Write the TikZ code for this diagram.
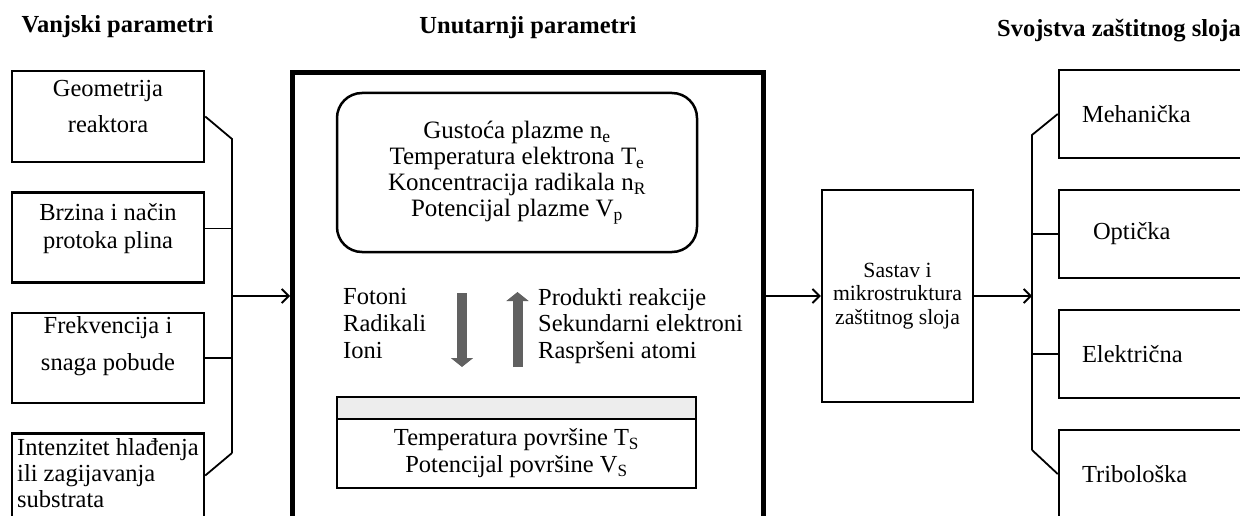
\documentclass[tikz,border=0pt]{standalone}
\usepackage{fontspec}
\setmainfont{Liberation Serif}
\usetikzlibrary{positioning,arrows.meta}

\begin{document}
\begin{tikzpicture}[
	x=1pt, y=-1pt
	,box/.style={draw, line width=2.5pt, inner sep=0pt, align=center}
	,txt/.style={font=\fontsize{24.5}{27}\selectfont}
	,head/.style={font=\fontsize{24.5}{27}\selectfont\bfseries, inner sep=0pt}
	,inbox/.style={box, minimum width=192pt, minimum height=90pt}
	,outbox/.style={box, txt, minimum height=88pt, text width=154pt, align=left, inner xsep=23pt}
	,link/.style={line width=1.8pt}
	,flow/.style={line width=1.8pt, -{Straight Barb[length=7pt,width=14pt]}}
	,stream/.style={line width=10pt, black!62, -{Triangle[length=9pt,width=22pt]}}
]
	\clip (0,0) rectangle (1240,516);

	% headings
	\node[head, anchor=base] (hin) at (117.5,33) {Vanjski parametri};
	\node[head, anchor=base] (hcore) at (528,34) {Unutarnji parametri};
	\node[head, anchor=base west] (hout) at (997,37) {Svojstva zaštitnog sloja};

	% outer parameters
	\node[inbox, minimum height=91pt, font=\fontsize{24.5}{36}\selectfont, text depth=20pt] (geo) at (108,116.5) {Geometrija\\reaktora};
	\node[inbox, font=\fontsize{24.5}{28}\selectfont, text depth=23pt, below=28pt of geo] (gas) {Brzina i način\\protoka plina};
	\node[inbox, font=\fontsize{24.5}{37}\selectfont, text depth=30pt, below=28pt of gas] (freq) {Frekvencija i\\snaga pobude};
	\node[inbox, align=left, font=\fontsize{24.5}{26}\selectfont, text depth=11pt, below=28pt of freq] (cool) {Intenzitet hlađenja\\ili zagijavanja\\substrata};

	\coordinate (lt) at (232,139);
	\coordinate (lm) at (232,296);
	\coordinate (lb) at (232,453);
	\draw[link] (geo.east) -- (lt) -- (lb);
	\draw[link] ([yshift=9pt]gas.east) -- ([yshift=9pt]gas.east -| lt);
	\draw[link] (freq.east) -- (freq.east -| lt);
	\draw[link] ([yshift=3pt]cool.east) -- (lb);

	% inner parameters
	\node[box, line width=5pt, minimum width=470.5pt, minimum height=457pt] (core) at (527.75,301.5) {};
	\draw[flow] (lm) -- (core.west |- lm);

	\node[box, rounded corners=25pt, minimum width=360pt, minimum height=159pt, font=\fontsize{25}{26}\selectfont] (plasma) at (517,172.5)
		{Gustoća plazme n\textsubscript{e}\\Temperatura elektrona T\textsubscript{e}\\Koncentracija radikala n\textsubscript{R}\\Potencijal plazme V\textsubscript{p}};

	\node[txt, anchor=west, align=left, inner sep=0pt] (incoming) at (343,324) {Fotoni\\Radikali\\Ioni};
	\node[anchor=west, align=left, inner sep=0pt, font=\fontsize{24.5}{26.5}\selectfont] (outgoing) at (538,326)
		{Produkti reakcije\\Sekundarni elektroni\\Raspršeni atomi};

	\coordinate (down top) at (462,293);
	\coordinate (down tip) at (462,367);
	\coordinate (up foot) at (517.5,367);
	\coordinate (up tip) at (517.5,292);
	\draw[stream] (down top) -- (down tip);
	\draw[stream] (up foot) -- (up tip);

	\node[box, txt, minimum width=359pt, minimum height=69pt] (surf) at (516.5,453.5)
		{Temperatura površine T\textsubscript{S}\\Potencijal površine V\textsubscript{S}};
	\node[box, fill=black!7, minimum width=359pt, minimum height=22pt, above=-2.5pt of surf] (surftop) {};

	% layer
	\node[box, minimum width=151pt, minimum height=212pt, font=\fontsize{21.7}{23.5}\selectfont] (layer) at (897.5,296)
		{Sastav i\\mikrostruktura\\zaštitnog sloja};
	\draw[flow] (core.east |- layer.west) -- (layer.west);

	% properties
	\node[outbox] (mech) at (1159,114) {Mehanička};
	\node[outbox, below=29.5pt of mech] (opt) {\hspace*{11pt}Optička};
	\node[outbox, below=29.5pt of opt] (elec) {Električna};
	\node[outbox, below=29.5pt of elec] (trib) {Tribološka};

	\coordinate (rt) at (1032,135);
	\coordinate (rb) at (1032,450);
	\draw[link] (mech.west) -- (rt) -- (rb);
	\draw[link] (opt.west) -- (opt.west -| rt);
	\draw[link] (elec.west) -- (elec.west -| rt);
	\draw[link] (trib.west) -- (rb);
	\draw[flow] (layer.east) -- (layer.east -| rt);
\end{tikzpicture}
\end{document}
